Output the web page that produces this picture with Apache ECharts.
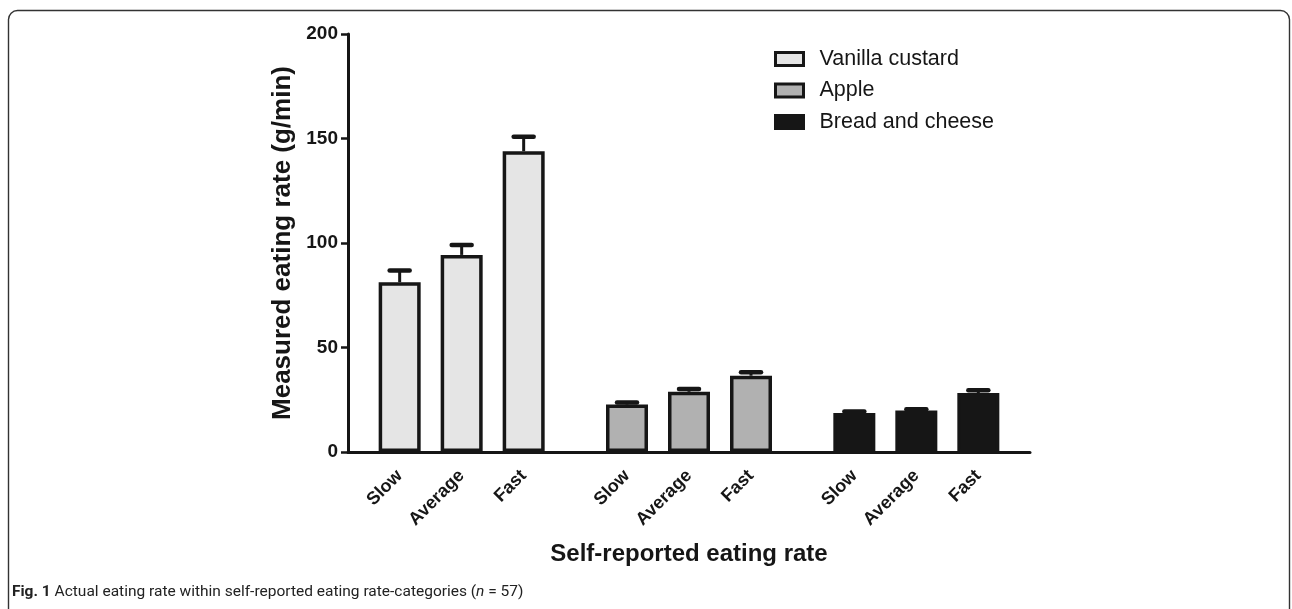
<!DOCTYPE html>
<html>
<head>
<meta charset="utf-8">
<script src="https://cdn.jsdelivr.net/npm/echarts@6/dist/echarts.min.js"></script>
<style>
  html, body { margin: 0; padding: 0; background: #fff; }
  #chart { width: 1292px; height: 609px; }
</style>
</head>
<body>
<div id="chart"></div>
<script>
// data
const rateLabels = ['Slow', 'Average', 'Fast'];
const foods = ['Vanilla custard', 'Apple', 'Bread and cheese'];
const custardMean = [81.2, 94.3, 143.9];
const custardSem = [5.6, 4.7, 6.9];
const appleMean = [22.7, 28.8, 36.5];
const appleSem = [1.0, 1.4, 1.7];
const breadMean = [18.7, 19.9, 28.2];
const breadSem = [0.7, 0.6, 1.3];
const yTicks = [0, 50, 100, 150, 200];

const fills = ['#e5e5e5', '#b1b1b1', '#161616'];
const ink = '#161616';

// layout of the category slots: 3 slots per bar, gap of 5 between groups
const lead = 2, step = 3, groupStep = 11, total = 33;
const categories = new Array(total).fill('');
const slotOf = (g, i) => lead + g * groupStep + i * step;
foods.forEach((f, g) => rateLabels.forEach((r, i) => { categories[slotOf(g, i)] = r; }));

const means = [custardMean, appleMean, breadMean];
const sems = [custardSem, appleSem, breadSem];

const barSeries = foods.map((name, g) => {
  const data = new Array(total).fill(null);
  means[g].forEach((v, i) => { data[slotOf(g, i)] = v; });
  return {
    name: name,
    type: 'bar',
    barWidth: 42,
    barGap: '-100%',
    data: data,
    itemStyle: { color: fills[g], borderColor: ink, borderWidth: 3.5 },
    z: 3
  };
});

const errData = [];
foods.forEach((f, g) => means[g].forEach((v, i) => {
  errData.push([slotOf(g, i), v, v + sems[g][i]]);
}));

const chart = echarts.init(document.getElementById('chart'));
chart.setOption({
  animation: false,
  textStyle: { fontFamily: 'Liberation Sans, Arial, sans-serif' },
  grid: { left: 348, right: 262, top: 34, bottom: 157 },
  legend: {
    data: foods,
    orient: 'vertical',
    left: 769,
    top: 43,
    icon: 'rect',
    itemWidth: 28,
    itemHeight: 13,
    itemGap: 9.5,
    selectedMode: false,
    itemStyle: { borderColor: ink, borderWidth: 3 },
    textStyle: { fontSize: 21.5, color: ink, fontFamily: 'Liberation Sans', padding: [0, 0, 0, 11] }
  },
  xAxis: {
    type: 'category',
    data: categories,
    name: 'Self-reported eating rate',
    nameLocation: 'middle',
    nameGap: 90,
    nameTextStyle: { fontSize: 24, fontWeight: 'bold', color: ink },
    axisLine: { lineStyle: { color: ink, width: 3 } },
    axisTick: {
      alignWithLabel: true,
      interval: (i, v) => v !== '',
      length: 8,
      lineStyle: { color: ink, width: 2.5 }
    },
    axisLabel: {
      interval: 0,
      rotate: 45,
      margin: 21,
      fontSize: 18,
      fontWeight: 'bold',
      color: ink
    }
  },
  yAxis: {
    type: 'value',
    min: 0,
    max: 200,
    interval: 50,
    name: 'Measured eating rate (g/min)',
    nameLocation: 'middle',
    nameGap: 46,
    nameTextStyle: { fontSize: 26, fontWeight: 'bold', color: ink },
    splitLine: { show: false },
    axisLine: { show: true, lineStyle: { color: ink, width: 3 } },
    axisTick: { show: true, length: 7, lineStyle: { color: ink, width: 2.5 } },
    axisLabel: {
      fontSize: 19,
      fontWeight: 'bold',
      color: ink,
      margin: 10,
      formatter: v => (yTicks.indexOf(v) >= 0 ? String(v) : '')
    }
  },
  graphic: [
    {
      type: 'rect',
      shape: { x: 8.5, y: 10.5, width: 1281, height: 700, r: [9, 9, 0, 0] },
      style: { fill: null, stroke: '#333', lineWidth: 1.4 },
      silent: true
    },
    {
      type: 'text',
      left: 12,
      top: 584,
      style: {
        text: '{b|Fig. 1} Actual eating rate within self-reported eating rate-categories ({i|n} = 57)',
        font: '15.5px Roboto, "Liberation Sans", sans-serif',
        fill: '#222',
        rich: {
          b: { fontWeight: 'bold', fontSize: 15.5, fontFamily: 'Roboto', fill: '#222' },
          i: { fontStyle: 'italic', fontSize: 15.5, fontFamily: 'Roboto', fill: '#222' }
        }
      }
    }
  ],
  series: barSeries.concat([{
    type: 'custom',
    name: 'sem',
    data: errData,
    z: 2,
    renderItem: (params, api) => {
      const base = api.coord([api.value(0), api.value(1)]);
      const top = api.coord([api.value(0), api.value(2)]);
      const half = 10;
      return {
        type: 'group',
        children: [
          {
            type: 'line',
            shape: { x1: base[0], y1: base[1], x2: top[0], y2: top[1] },
            style: { stroke: ink, lineWidth: 3 }
          },
          {
            type: 'line',
            shape: { x1: top[0] - half, y1: top[1], x2: top[0] + half, y2: top[1] },
            style: { stroke: ink, lineWidth: 4.5, lineCap: 'round' }
          }
        ]
      };
    }
  }])
});
</script>
</body>
</html>
